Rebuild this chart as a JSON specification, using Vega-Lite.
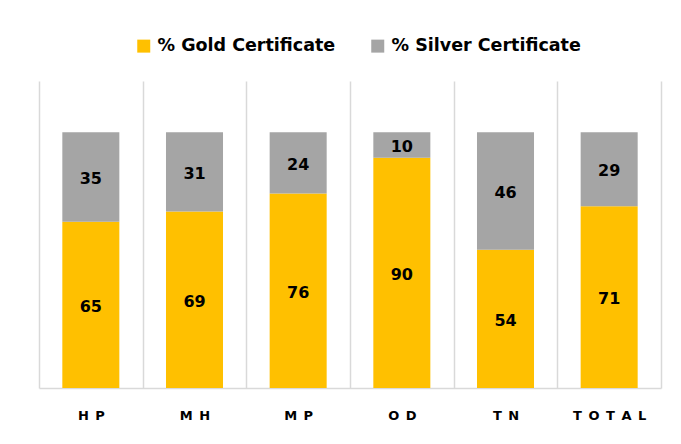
{
  "$schema": "https://vega.github.io/schema/vega-lite/v6.json",
  "width": 622,
  "height": 307,
  "autosize": "none",
  "padding": {"left": 39, "top": 81, "right": 20, "bottom": 56},
  "background": "white",
  "config": {
    "view": {"stroke": null},
    "font": "DejaVu Sans"
  },
  "data": {
    "values": [
      {"state": "HP", "series": "% Gold Certificate", "value": 65},
      {"state": "HP", "series": "% Silver Certificate", "value": 35},
      {"state": "MH", "series": "% Gold Certificate", "value": 69},
      {"state": "MH", "series": "% Silver Certificate", "value": 31},
      {"state": "MP", "series": "% Gold Certificate", "value": 76},
      {"state": "MP", "series": "% Silver Certificate", "value": 24},
      {"state": "OD", "series": "% Gold Certificate", "value": 90},
      {"state": "OD", "series": "% Silver Certificate", "value": 10},
      {"state": "TN", "series": "% Gold Certificate", "value": 54},
      {"state": "TN", "series": "% Silver Certificate", "value": 46},
      {"state": "TOTAL", "series": "% Gold Certificate", "value": 71},
      {"state": "TOTAL", "series": "% Silver Certificate", "value": 29}
    ]
  },
  "encoding": {
    "x": {
      "field": "state",
      "type": "nominal",
      "sort": ["HP", "MH", "MP", "OD", "TN", "TOTAL"],
      "scale": {"paddingInner": 0, "paddingOuter": 0},
      "axis": {
        "title": null,
        "labelAngle": 0,
        "labelFontSize": 13,
        "labelFontWeight": "bold",
        "labelColor": "#000000",
        "labelPadding": 21,
        "labelExpr": "join(split(datum.label, ''), '\u2002')",
        "ticks": false,
        "domainColor": "#d9d9d9",
        "domainWidth": 1.5,
        "grid": true,
        "gridColor": "#d9d9d9",
        "gridWidth": 1.5,
        "tickBand": "extent"
      }
    },
    "y": {
      "field": "value",
      "type": "quantitative",
      "stack": "zero",
      "scale": {"domain": [0, 120], "nice": false},
      "axis": null
    },
    "order": {"field": "series", "sort": "ascending"}
  },
  "layer": [
    {
      "mark": {"type": "bar", "width": {"band": 0.55}},
      "encoding": {
        "color": {
          "field": "series",
          "type": "nominal",
          "scale": {"domain": ["% Gold Certificate", "% Silver Certificate"], "range": ["#FFC000", "#A5A5A5"]},
          "legend": {
            "title": null,
            "orient": "none",
            "direction": "horizontal",
            "legendX": 96,
            "legendY": -44,
            "symbolType": "square",
            "symbolSize": 169,
            "symbolStrokeWidth": 0,
            "labelFontSize": 17.5,
            "labelFontWeight": "bold",
            "labelColor": "#000000",
            "labelOffset": 5,
            "labelLimit": 400,
            "columnPadding": 33
          }
        }
      }
    },
    {
      "mark": {"type": "text", "fontSize": 16, "fontWeight": "bold", "color": "#000000", "baseline": "middle", "dy": 2},
      "encoding": {
        "y": {"field": "value", "type": "quantitative", "stack": "zero", "bandPosition": 0.5},
        "text": {"field": "value", "type": "quantitative"}
      }
    }
  ]
}
